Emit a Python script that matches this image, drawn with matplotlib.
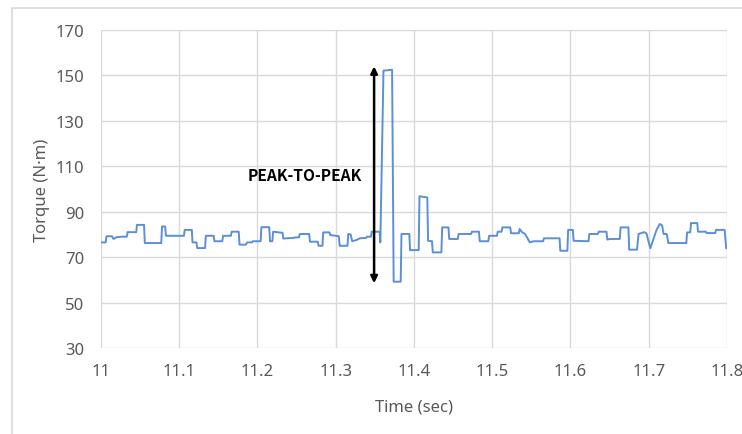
import matplotlib.pyplot as plt
from matplotlib.patches import Rectangle

plt.rcParams['font.family'] = ['Noto Sans', 'DejaVu Sans']

# torque trace (time in s, torque in N·m)
time = [11.000, 11.006, 11.007, 11.014, 11.016, 11.020, 11.027, 11.033, 11.034, 11.045,
        11.046, 11.055, 11.056, 11.077, 11.078, 11.082, 11.083, 11.106, 11.107, 11.116,
        11.117, 11.122, 11.123, 11.133, 11.134, 11.144, 11.145, 11.155, 11.156, 11.166,
        11.167, 11.176, 11.177, 11.185, 11.187, 11.193, 11.194, 11.204, 11.205,
        11.215, 11.216, 11.219, 11.220, 11.232, 11.233, 11.247, 11.248, 11.253, 11.254,
        11.266, 11.267, 11.277, 11.278, 11.283, 11.284, 11.292, 11.293, 11.298, 11.304,
        11.305, 11.315, 11.316, 11.319, 11.321, 11.326, 11.331,
        11.339, 11.340, 11.345, 11.346, 11.356, 11.357, 11.361, 11.372, 11.374, 11.383,
        11.384, 11.394, 11.395, 11.406, 11.407, 11.417, 11.418, 11.423, 11.424, 11.435,
        11.436,
        11.444, 11.445, 11.456, 11.457, 11.473, 11.474, 11.483, 11.484, 11.495, 11.496,
        11.506, 11.507, 11.512, 11.513, 11.523, 11.524, 11.534, 11.535, 11.538, 11.542,
        11.548, 11.553, 11.565, 11.566, 11.586, 11.587, 11.596, 11.597, 11.603, 11.604,
        11.623, 11.624, 11.635, 11.636, 11.646, 11.647, 11.650, 11.663, 11.664, 11.674,
        11.675, 11.685, 11.687, 11.694, 11.697, 11.702, 11.710, 11.714, 11.717, 11.719,
        11.723, 11.725, 11.748, 11.749, 11.753, 11.754, 11.762, 11.763, 11.773, 11.774,
        11.785, 11.786, 11.797, 11.799, 11.800]
torque = [76.5, 76.5, 79.2, 79.2, 78.0, 78.8, 79.0, 79.0, 81.0, 81.0,
          84.2, 84.2, 76.2, 76.2, 83.5, 83.5, 79.4, 79.4, 82.0, 82.0,
          76.5, 76.5, 74.0, 74.0, 79.4, 79.4, 77.0, 77.0, 79.4, 79.4,
          81.2, 81.2, 75.5, 75.5, 76.5, 76.5, 77.0, 77.0, 83.2,
          83.2, 77.0, 77.0, 81.2, 80.7, 78.2, 78.5, 78.7, 78.7, 80.2,
          80.2, 76.8, 76.8, 75.0, 75.0, 80.9, 80.9, 79.7, 79.5, 79.2,
          75.0, 75.0, 80.2, 80.0, 77.0, 77.5, 78.3,
          78.5, 79.0, 79.0, 81.2, 81.2, 76.5, 152.1, 152.5, 59.2, 59.2,
          80.2, 80.2, 73.1, 73.1, 96.8, 96.3, 77.2, 77.0, 72.1, 72.1,
          83.1,
          83.1, 78.0, 78.0, 80.2, 80.2, 81.2, 81.2, 77.0, 77.0, 79.4,
          79.4, 81.2, 81.2, 83.1, 83.1, 80.5, 80.5, 82.4, 81.0, 80.2,
          76.5, 77.0, 77.0, 78.3, 78.3, 72.8, 72.8, 82.0, 82.0, 77.2,
          77.0, 80.2, 80.2, 81.2, 81.2, 77.7, 78.0, 78.0, 83.1, 83.1,
          73.3, 73.3, 80.2, 81.0, 80.5, 73.9, 82.0, 84.6, 84.0, 80.2,
          80.2, 76.2, 76.2, 80.9, 80.9, 85.0, 85.0, 81.2, 81.2, 80.6,
          80.6, 82.0, 82.0, 73.9, 73.9]

xticks = [11, 11.1, 11.2, 11.3, 11.4, 11.5, 11.6, 11.7, 11.8]
xlabels = ['11', '11.1', '11.2', '11.3', '11.4', '11.5', '11.6', '11.7', '11.8']
yticks = [30, 50, 70, 90, 110, 130, 150, 170]

grey = '#595959'
fig = plt.figure(figsize=(7.42, 4.35), dpi=100)
fig.patches.append(Rectangle((12 / 742, -0.05), 1.1, 1 - 9 / 435 + 0.05,
                             transform=fig.transFigure, facecolor='none',
                             edgecolor='#d9d9d9', linewidth=1.2))
ax = fig.add_axes([101 / 742, 1 - 349 / 435, 626 / 742, 318 / 435])

ax.plot(time, torque, color='#5b8fd6', linewidth=1.4)
ax.annotate('', xy=(11.349, 58.5), xytext=(11.349, 154),
            arrowprops=dict(arrowstyle='<|-|>', color='black', lw=1.8,
                            mutation_scale=10, shrinkA=0, shrinkB=0))
ax.text(11.334, 106, 'PEAK-TO-PEAK', ha='right', va='center',
        fontsize=11.2, fontweight='bold', family=['Noto Sans CJK KR', 'DejaVu Sans'])

ax.set_xlim(11, 11.8)
ax.set_ylim(30, 170)
ax.set_xticks(xticks, xlabels)
ax.set_yticks(yticks)
ax.grid(color='#d9d9d9', linewidth=1)
ax.set_axisbelow(True)
for s in ax.spines.values():
    s.set_visible(False)
ax.tick_params(length=0, colors=grey, labelsize=12)
ax.tick_params(axis='x', pad=11)
ax.tick_params(axis='y', pad=12)
ax.set_xlabel('Time (sec)', color=grey, fontsize=12, va='center')
ax.set_ylabel('Torque (N·m)', color=grey, fontsize=12, va='center')
ax.xaxis.set_label_coords(0.5, (349 - 408) / 318)
ax.yaxis.set_label_coords((42 - 101) / 626, 0.5)

fig.savefig('out.png', dpi=100)
